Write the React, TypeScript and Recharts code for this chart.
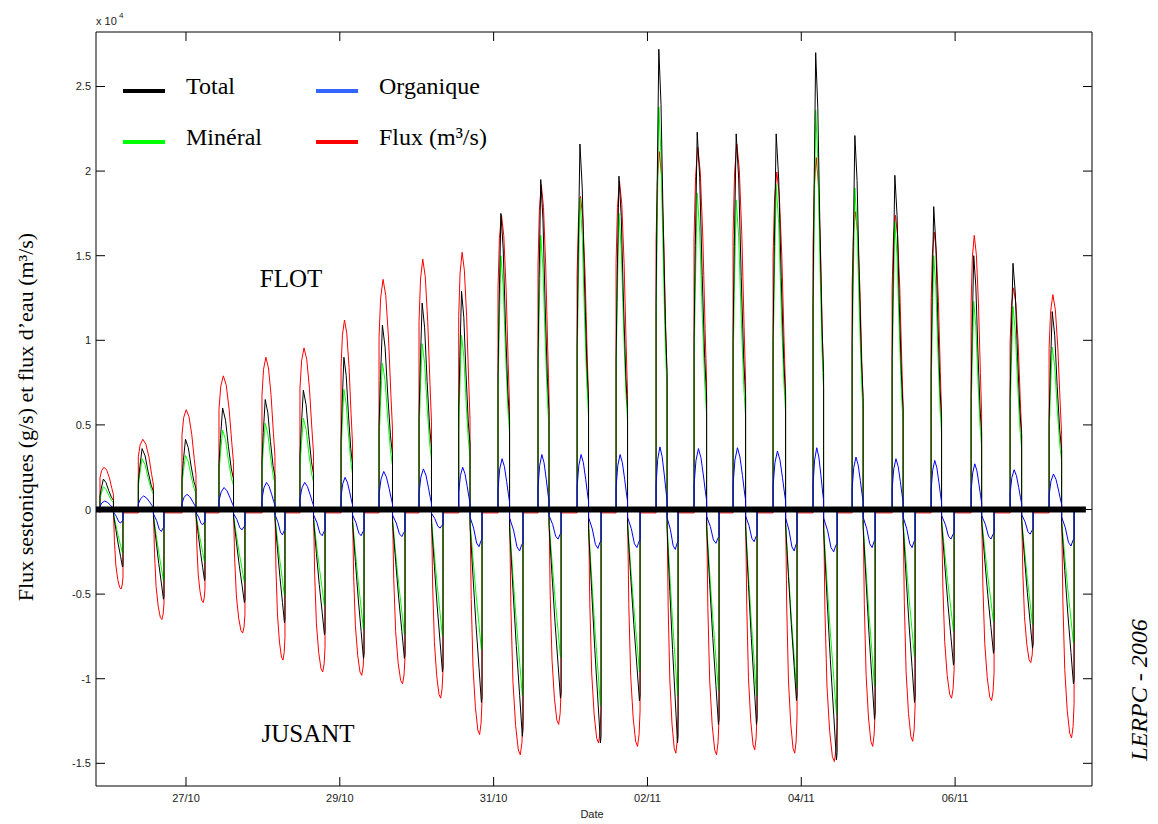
import React from 'react';
import { LineChart, Line, XAxis, YAxis } from 'recharts';

// temps en jours depuis le 27/10 00:00, valeurs en 10^4
const cycleStart = [-1.118, -0.62, -0.052, 0.429, 0.988, 1.482, 2.016, 2.51, 3.03, 3.546, 4.057, 4.577, 5.085, 5.592, 6.112, 6.606, 7.113, 7.633, 8.153, 8.661, 9.181, 9.688, 10.208, 10.715, 11.222];
const cycleTurn = [-0.943, -0.423, 0.13, 0.618, 1.157, 1.658, 2.165, 2.685, 3.192, 3.693, 4.207, 4.72, 5.234, 5.741, 6.255, 6.769, 7.276, 7.796, 8.29, 8.804, 9.324, 9.824, 10.345, 10.865, 11.385];
const cycleEnd = [-0.819, -0.286, 0.247, 0.767, 1.287, 1.808, 2.315, 2.848, 3.342, 3.849, 4.382, 4.877, 5.397, 5.904, 6.398, 6.931, 7.425, 7.945, 8.466, 8.96, 9.48, 9.987, 10.507, 11.014, 11.547];

// pics de flot
const fluxFlood = [0.25, 0.415, 0.59, 0.79, 0.9, 0.955, 1.12, 1.36, 1.48, 1.52, 1.74, 1.92, 1.85, 1.94, 2.115, 2.14, 2.16, 1.995, 2.08, 1.76, 1.74, 1.64, 1.62, 1.31, 1.27];
const totalFlood = [0.18, 0.36, 0.415, 0.6, 0.65, 0.705, 0.9, 1.09, 1.22, 1.29, 1.75, 1.95, 2.16, 1.97, 2.72, 2.23, 2.22, 2.22, 2.7, 2.21, 1.975, 1.79, 1.5, 1.455, 1.17];
const mineralFlood = [0.135, 0.3, 0.32, 0.47, 0.51, 0.54, 0.71, 0.865, 0.98, 1.03, 1.5, 1.62, 1.84, 1.75, 2.38, 1.87, 1.83, 1.92, 2.36, 1.9, 1.7, 1.5, 1.23, 1.2, 0.96];
const organicFlood = [0.05, 0.08, 0.09, 0.13, 0.16, 0.16, 0.19, 0.225, 0.24, 0.25, 0.3, 0.325, 0.325, 0.325, 0.37, 0.36, 0.365, 0.345, 0.365, 0.31, 0.3, 0.29, 0.27, 0.235, 0.21];

// creux de jusant
const fluxEbb = [-0.47, -0.65, -0.55, -0.73, -0.89, -0.96, -0.98, -1.03, -1.115, -1.33, -1.45, -1.27, -1.38, -1.4, -1.44, -1.45, -1.42, -1.44, -1.49, -1.4, -1.37, -1.115, -1.13, -0.905, -1.35];
const totalEbb = [-0.34, -0.53, -0.42, -0.55, -0.67, -0.74, -0.88, -0.88, -0.96, -1.14, -1.34, -1.115, -1.38, -1.13, -1.38, -1.27, -1.27, -1.13, -1.48, -1.24, -1.14, -0.92, -0.85, -0.82, -1.03];
const mineralEbb = [-0.26, -0.42, -0.31, -0.43, -0.51, -0.57, -0.71, -0.74, -0.75, -0.83, -1.1, -0.875, -1.16, -0.96, -1.1, -1.07, -1.1, -1.06, -1.21, -1.045, -0.875, -0.72, -0.665, -0.68, -0.79];
const organicEbb = [-0.08, -0.13, -0.09, -0.12, -0.15, -0.155, -0.155, -0.16, -0.11, -0.22, -0.245, -0.175, -0.23, -0.225, -0.236, -0.2, -0.19, -0.245, -0.25, -0.225, -0.225, -0.175, -0.175, -0.146, -0.216];

// forme d'une demi-marée (fraction de durée, fraction du pic)
const fluxFloodShape = [[0, 0], [0, 0.75], [0.12, 0.92], [0.3, 1], [0.5, 0.93], [0.7, 0.75], [0.88, 0.5], [1, 0.35], [1, 0]];
const fluxEbbShape = [[0, 0], [0.1, 0.4], [0.25, 0.7], [0.45, 0.88], [0.65, 0.98], [0.8, 1], [0.92, 0.95], [1, 0.85], [1, 0]];
const sedFloodShape = [[0, 0], [0, 0.45], [0.1, 0.7], [0.25, 1], [0.45, 0.88], [0.65, 0.62], [0.85, 0.4], [1, 0.3], [1, 0]];
const sedEbbShape = [[0, 0], [0, 0.08], [0.25, 0.35], [0.5, 0.6], [0.75, 0.82], [0.95, 1], [1, 0.97], [1, 0]];
const orgFloodShape = [[0, 0], [0, 0.4], [0.15, 0.8], [0.35, 1], [0.55, 0.85], [0.75, 0.55], [0.9, 0.3], [1, 0.15], [1, 0]];
const orgEbbShape = [[0, 0], [0, 0.2], [0.3, 0.5], [0.55, 0.9], [0.75, 1], [0.9, 0.85], [1, 0.8], [1, 0]];

const xTicks = [0, 2, 4, 6, 8, 10];
const xLabels = ['27/10', '29/10', '31/10', '02/11', '04/11', '06/11'];
const yTicks = [-1.5, -1, -0.5, 0, 0.5, 1, 1.5, 2, 2.5];
const yLabels = ['-1.5', '-1', '-0.5', '0', '0.5', '1', '1.5', '2', '2.5'];
const zeroLine = [{ t: -1.17, v: 0 }, { t: 11.7, v: 0 }];

const legendItems = [
  { name: 'Total', color: '#000000', x: 123, y: 91 },
  { name: 'Minéral', color: '#00ff00', x: 123, y: 142 },
  { name: 'Organique', color: '#3366ff', x: 316, y: 91 },
  { name: 'Flux (m³/s)', color: '#ff0000', x: 316, y: 142 },
];

const X_DOMAIN = [-1.17, 11.78];
const Y_DOMAIN = [-1.634, 2.822];
const sans = '"Liberation Sans", Arial, sans-serif';
const serif = '"Liberation Serif", "Times New Roman", serif';

function buildSeries(flood: number[], ebb: number[], fShape: number[][], eShape: number[][], rest: number) {
  const pts: { t: number; v: number }[] = [];
  cycleStart.forEach((ts, i) => {
    const tm = cycleTurn[i];
    const te = cycleEnd[i];
    pts.push({ t: ts, v: rest });
    fShape.forEach(([u, f]) => pts.push({ t: ts + u * (tm - ts), v: f * flood[i] }));
    eShape.forEach(([u, f]) => pts.push({ t: tm + u * (te - tm), v: f * ebb[i] }));
    pts.push({ t: te, v: rest });
  });
  return pts;
}

const fluxData = buildSeries(fluxFlood, fluxEbb, fluxFloodShape, fluxEbbShape, -0.02);
const totalData = buildSeries(totalFlood, totalEbb, sedFloodShape, sedEbbShape, 0);
const mineralData = buildSeries(mineralFlood, mineralEbb, sedFloodShape, sedEbbShape, 0);
const organicData = buildSeries(organicFlood, organicEbb, orgFloodShape, orgEbbShape, 0);

const BottomTick = (props: any) => {
  const { x, y, index } = props;
  return (
    <g>
      <line x1={x} y1={y} x2={x} y2={y - 9} stroke="#000" />
      <text x={x} y={y + 16} textAnchor="middle" fontSize={11} fontFamily={sans} fill="#222">
        {xLabels[index]}
      </text>
    </g>
  );
};

const TopTick = (props: any) => {
  const { x, y } = props;
  return <line x1={x} y1={y} x2={x} y2={y + 9} stroke="#000" />;
};

const LeftTick = (props: any) => {
  const { x, y, index } = props;
  return (
    <g>
      <line x1={x} y1={y} x2={x + 9} y2={y} stroke="#000" />
      <text x={x - 5} y={y + 4} textAnchor="end" fontSize={11} fontFamily={sans} fill="#222">
        {yLabels[index]}
      </text>
    </g>
  );
};

const RightTick = (props: any) => {
  const { x, y } = props;
  return <line x1={x} y1={y} x2={x - 9} y2={y} stroke="#000" />;
};

export default function App() {
  return (
    <div style={{ position: 'absolute', left: 0, top: 0, width: 1158, height: 824, background: '#fff' }}>
      <LineChart width={1158} height={824} margin={{ top: 31, right: 65, bottom: 0, left: 0 }}>
        <XAxis
          type="number"
          dataKey="t"
          domain={X_DOMAIN}
          ticks={xTicks}
          allowDataOverflow
          height={38}
          tickSize={0}
          tickMargin={0}
          tick={<BottomTick />}
          axisLine={{ stroke: '#000' }}
          tickLine={false}
        />
        <XAxis
          xAxisId="top"
          orientation="top"
          type="number"
          dataKey="t"
          domain={X_DOMAIN}
          ticks={xTicks}
          allowDataOverflow
          height={1}
          tickSize={0}
          tickMargin={0}
          tick={<TopTick />}
          axisLine={{ stroke: '#000' }}
          tickLine={false}
        />
        <YAxis
          type="number"
          domain={Y_DOMAIN}
          ticks={yTicks}
          allowDataOverflow
          width={96}
          tickSize={0}
          tickMargin={0}
          tick={<LeftTick />}
          axisLine={{ stroke: '#000' }}
          tickLine={false}
        />
        <YAxis
          yAxisId="right"
          orientation="right"
          type="number"
          domain={Y_DOMAIN}
          ticks={yTicks}
          allowDataOverflow
          width={1}
          tickSize={0}
          tickMargin={0}
          tick={<RightTick />}
          axisLine={{ stroke: '#000' }}
          tickLine={false}
        />
        <Line data={fluxData} dataKey="v" type="linear" stroke="#ff0000" strokeWidth={1} dot={false} activeDot={false} isAnimationActive={false} />
        <Line data={mineralData} dataKey="v" type="linear" stroke="#00ff00" strokeWidth={1} dot={false} activeDot={false} isAnimationActive={false} />
        <Line data={totalData} dataKey="v" type="linear" stroke="#000000" strokeWidth={1} dot={false} activeDot={false} isAnimationActive={false} />
        <Line data={organicData} dataKey="v" type="linear" stroke="#0000ff" strokeWidth={1} dot={false} activeDot={false} isAnimationActive={false} />
        <Line data={zeroLine} dataKey="v" type="linear" stroke="#000000" strokeWidth={6} dot={false} activeDot={false} isAnimationActive={false} />
      </LineChart>
      <svg width={1158} height={824} style={{ position: 'absolute', left: 0, top: 0, pointerEvents: 'none' }}>
        <text x={96} y={25} fontSize={11} fontFamily={sans} fill="#222">x 10</text>
        <text x={119} y={18} fontSize={8} fontFamily={sans} fill="#222">4</text>
        {legendItems.map((it) => (
          <g key={it.name}>
            <line x1={it.x} y1={it.y} x2={it.x + 42} y2={it.y} stroke={it.color} strokeWidth={4} />
            <text x={it.x + 63} y={it.y + 3} fontSize={24} fontFamily={serif} fill="#000">{it.name}</text>
          </g>
        ))}
        <text x={291} y={287} textAnchor="middle" fontSize={25} fontFamily={serif} fill="#000">FLOT</text>
        <text x={308} y={742} textAnchor="middle" fontSize={25} fontFamily={serif} fill="#000">JUSANT</text>
        <text x={33} y={417} transform="rotate(-90 33 417)" textAnchor="middle" fontSize={22} fontFamily={serif} fill="#000">
          Flux sestoniques (g/s) et flux d’eau (m³/s)
        </text>
        <text x={592} y={818} textAnchor="middle" fontSize={11} fontFamily={sans} fill="#222">Date</text>
        <text x={1147} y={690} transform="rotate(-90 1147 690)" textAnchor="middle" fontSize={24} fontStyle="italic" fontFamily={serif} fill="#000">
          LERPC - 2006
        </text>
      </svg>
    </div>
  );
}
